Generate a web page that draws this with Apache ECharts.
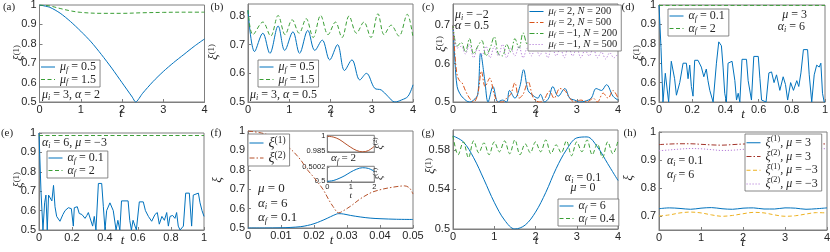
<!DOCTYPE html>
<html><head><meta charset="utf-8">
<script src="https://cdn.jsdelivr.net/npm/echarts@6/dist/echarts.min.js"></script>
<style>html,body{margin:0;padding:0;background:#fff}#c{width:830px;height:252px}</style>
</head><body><div id="c"></div>
<script>
// ---------------- data ----------------
// (a)
const aT1 = [0,0.25,0.5,0.75,1,1.25,1.5,1.75,2,2.25,2.33,2.5,2.75,3,3.25,3.5,3.75,4];
const aMu05 = [1,0.988,0.958,0.915,0.865,0.81,0.745,0.675,0.6,0.525,0.5,0.545,0.605,0.657,0.703,0.745,0.787,0.825];
const aT2 = [0,0.25,0.5,0.75,1,1.5,2,2.5,3,3.5,4];
const aMu15 = [1,0.995,0.982,0.97,0.962,0.957,0.957,0.96,0.962,0.963,0.963];
// (b)
const bT1 = [0,0.16,0.36,0.53,0.73,0.89,1.09,1.25,1.45,1.62,1.8,1.98,2.17,2.34,2.52,2.71,2.87,3.07,3.23,3.39,3.56,3.72,3.88,4];
const bMu05 = [0.82,0.676,0.74,0.67,0.765,0.68,0.745,0.67,0.75,0.68,0.716,0.647,0.70,0.61,0.647,0.577,0.60,0.548,0.542,0.52,0.50,0.507,0.52,0.56];
const bT2 = [0,0.12,0.36,0.55,0.73,0.9,1.07,1.24,1.41,1.58,1.76,1.94,2.12,2.28,2.45,2.63,2.81,2.98,3.15,3.3,3.47,3.66,3.86,4];
const bMu15 = [0.82,0.735,0.779,0.73,0.802,0.735,0.787,0.74,0.791,0.725,0.802,0.735,0.779,0.725,0.80,0.74,0.779,0.725,0.808,0.735,0.768,0.73,0.806,0.725];
// (c)
const cT1 = [0,0.05,0.1,0.16,0.25,0.4,0.5,0.6,0.67,0.77,0.85,0.97,1.09,1.2,1.3,1.37,1.5,1.62,1.71,1.82,1.94,2.06,2.12,2.22,2.32,2.42,2.55,2.71,2.83,2.95,3.07,3.2,3.35,3.47,3.6,3.72,3.88,4];
const cMu2N200 = [0.70,0.60,0.54,0.523,0.51,0.50,0.505,0.52,0.627,0.557,0.50,0.54,0.50,0.505,0.50,0.53,0.51,0.54,0.584,0.53,0.517,0.51,0.52,0.50,0.51,0.54,0.515,0.535,0.51,0.505,0.50,0.502,0.51,0.535,0.53,0.545,0.515,0.505];
const cT2 = [0,0.05,0.1,0.16,0.22,0.3,0.4,0.5,0.6,0.69,0.78,0.89,1.0,1.1,1.2,1.3,1.4,1.5,1.6,1.7,1.82,1.95,2.1,2.2,2.34,2.45,2.59,2.71,2.83,2.95,3.1,3.25,3.4,3.5,3.64,3.76,3.88,4];
const cMu2N500 = [0.70,0.62,0.57,0.555,0.55,0.53,0.51,0.50,0.52,0.58,0.54,0.562,0.52,0.50,0.50,0.51,0.52,0.55,0.51,0.52,0.553,0.51,0.50,0.505,0.528,0.51,0.535,0.53,0.51,0.50,0.505,0.50,0.51,0.50,0.523,0.51,0.53,0.51];
const cT3 = [0,0.1,0.2,0.3,0.4,0.5,0.6,0.7,0.8,0.9,1,1.1,1.2,1.3,1.4,1.5,1.6,1.7,1.8,1.9,2,2.1,2.2,2.3,2.4,2.5,2.6,2.7,2.8,2.9,3,3.1,3.2,3.3,3.4,3.5,3.6,3.7,3.8,3.9,4];
const cMuM1N200 = [0.70,0.645,0.655,0.63,0.665,0.625,0.645,0.66,0.62,0.64,0.67,0.625,0.62,0.65,0.63,0.665,0.64,0.68,0.65,0.675,0.65,0.68,0.655,0.685,0.655,0.68,0.66,0.685,0.655,0.68,0.66,0.685,0.655,0.68,0.66,0.685,0.655,0.68,0.66,0.68,0.665];
const cMuM1N500 = [0.70,0.64,0.645,0.625,0.65,0.615,0.64,0.62,0.645,0.615,0.645,0.62,0.65,0.615,0.64,0.62,0.645,0.615,0.64,0.62,0.645,0.62,0.64,0.615,0.645,0.62,0.64,0.615,0.645,0.62,0.64,0.615,0.635,0.62,0.64,0.615,0.63,0.612,0.628,0.615,0.625];
// (d)
const dT = [0,0.012,0.024,0.038,0.048,0.058,0.074,0.084,0.094,0.105,0.125,0.145,0.165,0.175,0.185,0.195,0.205,0.215,0.235,0.255,0.27,0.285,0.295,0.306,0.316,0.326,0.346,0.36,0.376,0.386,0.396,0.406,0.416,0.44,0.457,0.467,0.477,0.487,0.5,0.527,0.537,0.557,0.571,0.598,0.608,0.618,0.645,0.662,0.678,0.693,0.708,0.728,0.748,0.762,0.775,0.793,0.81,0.83,0.842,0.855,0.87,0.895,0.905,0.92,0.935,0.95,0.965,0.975,0.985,0.995,1];
const dAf01 = [1,0.78,0.5,0.648,0.65,0.5,0.71,0.72,0.62,0.535,0.6,0.70,0.70,0.62,0.69,0.58,0.53,0.715,0.715,0.68,0.63,0.67,0.61,0.56,0.57,0.5,0.70,0.81,0.79,0.68,0.545,0.5,0.70,0.71,0.61,0.51,0.545,0.5,0.72,0.72,0.61,0.51,0.735,0.735,0.62,0.51,0.5,0.65,0.655,0.6,0.64,0.56,0.63,0.59,0.51,0.6,0.56,0.61,0.58,0.65,0.77,0.77,0.64,0.5,0.64,0.69,0.68,0.70,0.545,0.5,0.5];
const dT2 = [0,1];
const dAf2 = [0.998,0.998];
// (e)
const eT = [0,0.012,0.024,0.034,0.042,0.05,0.058,0.07,0.078,0.088,0.097,0.107,0.127,0.145,0.158,0.178,0.196,0.208,0.214,0.232,0.244,0.26,0.279,0.29,0.299,0.31,0.325,0.335,0.345,0.36,0.38,0.39,0.4,0.41,0.42,0.43,0.44,0.45,0.467,0.478,0.49,0.5,0.54,0.55,0.56,0.57,0.59,0.608,0.632,0.645,0.663,0.683,0.703,0.717,0.729,0.745,0.76,0.774,0.784,0.794,0.81,0.824,0.834,0.844,0.855,0.875,0.889,0.911,0.925,0.935,0.966,0.976,0.988,1];
const eAf01 = [1,0.7,0.5,0.64,0.68,0.5,0.68,0.69,0.65,0.73,0.62,0.57,0.545,0.58,0.60,0.615,0.61,0.52,0.615,0.62,0.585,0.58,0.56,0.575,0.59,0.585,0.52,0.57,0.5,0.74,0.74,0.62,0.5,0.6,0.59,0.64,0.64,0.6,0.5,0.55,0.5,0.65,0.65,0.55,0.5,0.55,0.5,0.645,0.645,0.6,0.57,0.545,0.58,0.59,0.53,0.57,0.55,0.59,0.52,0.57,0.575,0.56,0.59,0.52,0.5,0.52,0.69,0.69,0.52,0.68,0.69,0.64,0.6,0.57];
const eT2 = [0,1];
const eAf2 = [0.987,0.987];
// (f)
const fT1 = [0,0.005,0.01,0.013,0.016,0.018,0.02,0.022,0.024,0.026,0.0275,0.029,0.031,0.034,0.037,0.04,0.045,0.05];
const fXi1 = [0.5,0.5,0.501,0.503,0.507,0.513,0.522,0.535,0.55,0.566,0.574,0.572,0.565,0.557,0.551,0.548,0.545,0.544];
const fT2 = [0,0.004,0.007,0.01,0.013,0.016,0.018,0.02,0.0227,0.0245,0.0258,0.0275,0.029,0.0313,0.034,0.0374,0.04,0.0434,0.0475,0.049,0.05];
const fXi2 = [1,0.99,0.974,0.945,0.906,0.85,0.80,0.76,0.70,0.645,0.61,0.578,0.59,0.615,0.65,0.683,0.697,0.709,0.717,0.705,0.675];
const fInT = [0,0.25,0.5,0.75,1,1.25,1.5,1.75,2];
const fInXi2 = [1,0.9993,0.997,0.993,0.989,0.9858,0.9845,0.9858,0.99];
const fInXi1 = [0.5,0.50001,0.50004,0.50008,0.50013,0.50017,0.50019,0.50018,0.50014];
// (g)
const gT1 = [0,0.25,0.5,0.75,1,1.25,1.5,1.75,2,2.25,2.5,2.75,3,3.25,3.5,3.75,4];
const gAf6 = [0.594,0.588,0.572,0.550,0.527,0.509,0.5,0.504,0.517,0.537,0.561,0.580,0.592,0.593,0.583,0.566,0.549];
const gT2 = [0,0.125,0.25,0.375,0.5,0.625,0.75,0.875,1,1.125,1.25,1.375,1.5,1.625,1.75,1.875,2,2.125,2.25,2.375,2.5,2.625,2.75,2.875,3,3.125,3.25,3.375,3.5,3.625,3.75,3.875,4];
const gAf04 = [0.594,0.575,0.588,0.572,0.589,0.577,0.587,0.575,0.588,0.578,0.589,0.576,0.590,0.575,0.586,0.577,0.588,0.578,0.590,0.576,0.585,0.577,0.589,0.574,0.588,0.578,0.590,0.575,0.586,0.572,0.588,0.576,0.589];
// (h)
const hT = [0,0.25,0.5,0.75,1,1.25,1.5,1.75,2,2.25,2.5,2.75,3,3.25,3.5,3.75,4];
const hXi1Mu3 = [0.726,0.729,0.727,0.724,0.728,0.73,0.726,0.724,0.728,0.729,0.725,0.725,0.729,0.728,0.724,0.726,0.729];
const hXi2Mu3 = [0.955,0.957,0.958,0.958,0.956,0.954,0.953,0.955,0.957,0.958,0.957,0.955,0.953,0.954,0.956,0.958,0.957];
const hXi1MuM3 = [0.70,0.704,0.711,0.714,0.711,0.704,0.699,0.702,0.708,0.713,0.711,0.704,0.699,0.701,0.707,0.712,0.711];
const hXi2MuM3 = [0.933,0.936,0.939,0.941,0.94,0.937,0.934,0.935,0.938,0.941,0.94,0.937,0.934,0.935,0.938,0.941,0.94];

// tick labels
const ticks04 = [0,1,2,3,4];
const ticks01 = [0,0.2,0.4,0.6,0.8,1];
const ticksF = [0,0.01,0.02,0.03,0.04,0.05];
const yt5to1 = [0.5,0.6,0.7,0.8,0.9,1];

// ---------------- style ----------------
const MATH = 'Liberation Serif', SANS = 'Liberation Sans';
const COL = {blue:'#0072BD', green:'#3a9e35', orange:'#D95319', purple:'#b57fd8', brown:'#b5512a', dred:'#a3342a', yellow:'#EDB120'};
const DASH=[4,2.5], DASHDOT=[5,2,1.5,2], DOT=[1.2,1.8];
const AX = '#7f7f7f', TXT = '#262626';

function rich(fs, lh){
  return {
    i:{fontFamily:MATH,fontStyle:'italic',fontSize:fs,lineHeight:lh,verticalAlign:'middle',color:TXT},
    n:{fontFamily:MATH,fontSize:fs,lineHeight:lh,verticalAlign:'middle',color:TXT},
    s:{fontFamily:MATH,fontStyle:'italic',fontSize:fs*0.68,lineHeight:5,verticalAlign:'bottom',color:TXT},
    p:{fontFamily:MATH,fontSize:fs*0.68,lineHeight:5,verticalAlign:'top',color:TXT}
  };
}

const option = {animation:false, grid:[], xAxis:[], yAxis:[], series:[], legend:[], graphic:[]};
const fmt = v => String(+(+v).toFixed(5));
const STY = {};

function panel(p){
  const gi = option.grid.length;
  option.grid.push({left:p.left, top:p.top, width:p.w, height:p.h, show:true, borderColor:AX, borderWidth:1, backgroundColor:p.bg||'transparent', outerBoundsMode:'none'});
  const fs = p.fs||11;
  option.xAxis.push({type:'value', gridIndex:gi, min:p.x[0], max:p.x[1],
    axisLine:{show:true,onZero:false,lineStyle:{color:AX,width:1}},
    axisTick:{show:true,inside:true,length:p.tl||3,customValues:p.xt,lineStyle:{color:AX}},
    axisLabel:{customValues:p.xt,formatter:fmt,color:TXT,fontFamily:SANS,fontSize:fs,margin:p.xm||2},
    splitLine:{show:false}});
  option.yAxis.push({type:'value', gridIndex:gi, min:p.y[0], max:p.y[1],
    axisLine:{show:true,onZero:false,lineStyle:{color:AX,width:1}},
    axisTick:{show:true,inside:true,length:p.tl||3,customValues:p.yt,lineStyle:{color:AX}},
    axisLabel:{customValues:p.yt,formatter:fmt,color:TXT,fontFamily:SANS,fontSize:fs,margin:p.ym||3},
    splitLine:{show:false}});
  return gi;
}
function line(name, gi, xs, ys, color, type, smooth){
  STY[name] = {color, type: type||'solid'};
  option.series.push({type:'line', name, xAxisIndex:gi, yAxisIndex:gi,
    data: xs.map((x,i)=>[x, ys[i]]), symbol:'none', showSymbol:false,
    smooth: smooth===undefined?0.35:smooth, clip:true,
    lineStyle:{color, width:1, type: type||'solid'}, itemStyle:{color}});
}
function legend(left, top, names, labels, fs, lh, gap){
  option.legend.push({left, top, orient:'vertical', itemWidth:14, itemHeight:8, itemGap:gap||0,
    data:names.map(n=>({name:n, itemStyle:{opacity:0}, lineStyle:{color:STY[n].color, type:STY[n].type, width:1, opacity:1}})),
    padding:[1,4,1,1], borderColor:'#6b6b6b', borderWidth:0.8, backgroundColor:'#fff', z:10,
    formatter: n => labels[n], textStyle:{rich:rich(fs||12, lh||13)}, selectedMode:false});
}
function text(x, y, t, o){
  o = o||{};
  option.graphic.push({type:'text', x, y, rotation:o.rot||0, z:100,
    style:{text:t, rich:rich(o.fs||12, o.lh||14), fill:TXT, align:o.align||'left', verticalAlign:'middle',
      textAlign:o.align||'left', textVerticalAlign:'middle', font:(o.fs||12)+'px '+MATH}});
}
function plain(x, y, t, fs, font, italic){
  option.graphic.push({type:'text', x, y, z:100,
    style:{text:t, fill:TXT, align:'center', verticalAlign:'middle', textAlign:'center', textVerticalAlign:'middle',
      font:(italic?'italic ':'')+fs+'px '+font}});
}
const XI1 = '{i|ξ}{p|(1)}', XI2 = '{i|ξ}{p|(2)}';

// (a)
let g = panel({left:39.5, top:5, w:165, h:97, x:[0,4], y:[0.5,1], xt:ticks04, yt:yt5to1});
line('a1', g, aT1, aMu05, COL.blue, 'solid', 0.25);
line('a2', g, aT2, aMu15, COL.green, DASH);
legend(39.5, 60, ['a1','a2'], {a1:'{i|μ}{s|f}{n| = 0.5}', a2:'{i|μ}{s|f}{n| = 1.5}'});
text(42, 95, '{i|μ}{s|i}{n| = 3, }{i|α}{n| = 2}');
// (b)
g = panel({left:248, top:4, w:165, h:98, x:[0,4], y:[0.5,0.842], xt:ticks04, yt:[0.5,0.6,0.7,0.8]});
line('b1', g, bT1, bMu05, COL.blue);
line('b2', g, bT2, bMu15, COL.green, DASH);
legend(258, 60, ['b1','b2'], {b1:'{i|μ}{s|f}{n| = 0.5}', b2:'{i|μ}{s|f}{n| = 1.5}'});
text(250, 95, '{i|μ}{s|i}{n| = 3, }{i|α}{n| = 0.5}');
// (c)
g = panel({left:453, top:4, w:165, h:98, x:[0,4], y:[0.5,0.755], xt:ticks04, yt:[0.5,0.6,0.7]});
line('c1', g, cT1, cMu2N200, COL.blue);
line('c2', g, cT2, cMu2N500, COL.orange, DASHDOT);
line('c3', g, cT3, cMuM1N200, COL.green, DASHDOT);
line('c4', g, cT3, cMuM1N500, COL.purple, DOT);
legend(528, 5, ['c1','c2','c3','c4'], {c1:'{i|μ}{s|f}{n| = 2, }{i|N}{n| = 200}', c2:'{i|μ}{s|f}{n| = 2, }{i|N}{n| = 500}', c3:'{i|μ}{s|f}{n| = −1, }{i|N}{n| = 200}', c4:'{i|μ}{s|f}{n| = −1, }{i|N}{n| = 500}'}, 10.5, 10.7);
text(455, 15, '{i|μ}{s|i}{n| = −2}');
text(455, 25.5, '{i|α}{n| = 0.5}');
// (d)
g = panel({left:659, top:5, w:166, h:97, x:[0,1], y:[0.5,1], xt:ticks01, yt:yt5to1});
line('d1', g, dT, dAf01, COL.blue, 'solid', false);
line('d2', g, dT2, dAf2, COL.green, DASH, false);
legend(668, 9, ['d1','d2'], {d1:'{i|α}{s|f}{n| = 0.1}', d2:'{i|α}{s|f}{n| = 2}'});
text(807, 15, '{i|μ}{n| = 3}', {align:'right'});
text(805, 27, '{i|α}{s|i}{n| = 6}', {align:'right'});
// (e)
g = panel({left:39, top:133, w:165, h:97, x:[0,1], y:[0.5,1], xt:ticks01, yt:yt5to1});
line('e1', g, eT, eAf01, COL.blue, 'solid', false);
line('e2', g, eT2, eAf2, COL.green, DASH, false);
legend(47, 151, ['e1','e2'], {e1:'{i|α}{s|f}{n| = 0.1}', e2:'{i|α}{s|f}{n| = 2}'});
text(42, 143, '{i|α}{s|i}{n| = 6, }{i|μ}{n| = −3}');
// (f)
g = panel({left:248, top:131, w:165, h:97, x:[0,0.05], y:[0.5,1], xt:ticksF, yt:yt5to1});
line('f1', g, fT1, fXi1, COL.blue);
line('f2', g, fT2, fXi2, COL.brown, DASHDOT);
legend(248, 134, ['f1','f2'], {f1:XI1, f2:XI2}, 14, 16);
text(258, 189, '{i|μ}{n| = 0}', {fs:13});
text(258, 204, '{i|α}{s|i}{n| = 6}', {fs:13});
text(258, 218, '{i|α}{s|f}{n| = 0.1}', {fs:13});
// insets
g = panel({left:327.3, top:135.3, w:47, h:16.7, x:[0,2], y:[0.98433,1.001], xt:[], yt:[0.985,1], fs:7.5, tl:2, ym:2, bg:'#fff'});
line('fi2', g, fInT, fInXi2, COL.brown, 'solid');
g = panel({left:327.3, top:166.3, w:47, h:15.7, x:[0,2], y:[0.49999,0.50021], xt:[0,1,2], yt:[0.5,0.5002], fs:7.5, tl:2, ym:2, xm:1, bg:'#fff'});
line('fi1', g, fInT, fInXi1, COL.blue, 'solid');
text(331, 158.5, '{i|α}{s|f}{n| = 2}', {fs:11});
text(379, 143.5, XI2, {rot:Math.PI/2, align:'center', fs:10});
text(379, 174, XI1, {rot:Math.PI/2, align:'center', fs:10});
plain(350.8, 196, 't', 9, MATH, true);
// (g)
g = panel({left:453, top:130, w:165, h:99, x:[0,4], y:[0.5,0.6], xt:ticks04, yt:[0.5,0.54,0.58]});
line('g1', g, gT1, gAf6, COL.blue);
line('g2', g, gT2, gAf04, COL.green, DASH);
legend(558, 199, ['g1','g2'], {g1:'{i|α}{s|f}{n| = 6}', g2:'{i|α}{s|f}{n| = 0.4}'});
text(583, 177.7, '{i|α}{s|i}{n| = 0.1}', {align:'center'});
text(583, 188.3, '{i|μ}{n| = 0}', {align:'center'});
// (h)
g = panel({left:659, top:132, w:168, h:98, x:[0,4], y:[0.65,1], xt:ticks04, yt:[0.7,0.8,0.9,1]});
line('h1', g, hT, hXi1Mu3, COL.blue);
line('h2', g, hT, hXi2Mu3, COL.dred, DASHDOT);
line('h3', g, hT, hXi1MuM3, COL.yellow, DASH);
line('h4', g, hT, hXi2MuM3, COL.purple, DOT);
legend(745, 134, ['h1','h2','h3','h4'], {h1:XI1+'{n|, }{i|μ}{n| = 3}', h2:XI2+'{n|, }{i|μ}{n| = 3}', h3:XI1+'{n|, }{i|μ}{n| = −3}', h4:XI2+'{n|, }{i|μ}{n| = −3}'}, 12, 15.5);
text(667, 161, '{i|α}{s|i}{n| = 0.1}');
text(667, 175, '{i|α}{s|f}{n| = 6}');

// axis names
[[19,53,XI1],[214,52,XI1],[442,44,XI1],[639,53,XI1],[19,180,XI1],[431,166,XI1]].forEach(a=>text(a[0],a[1],a[2],{rot:Math.PI/2,align:'center',fs:13}));
text(218,180,'{i|ξ}',{rot:Math.PI/2,align:'center',fs:13});
text(629,178,'{i|ξ}',{rot:Math.PI/2,align:'center',fs:13});
[[121,114],[331.5,114],[536.5,114],[743,115],[122.5,241],[331.5,241],[536.5,241],[743,242.5]].forEach(a=>plain(a[0],a[1],'t',13,MATH,true));
// panel letters
[[9,7,'(a)'],[217,7,'(b)'],[428,7,'(c)'],[628,7,'(d)'],[7,133,'(e)'],[216,133,'(f)'],[428,133,'(g)'],[630,133,'(h)']].forEach(a=>plain(a[0],a[1],a[2],11,MATH,false));

const chart = echarts.init(document.getElementById('c'), null, {renderer:'canvas'});
chart.setOption(option);
</script></body></html>
